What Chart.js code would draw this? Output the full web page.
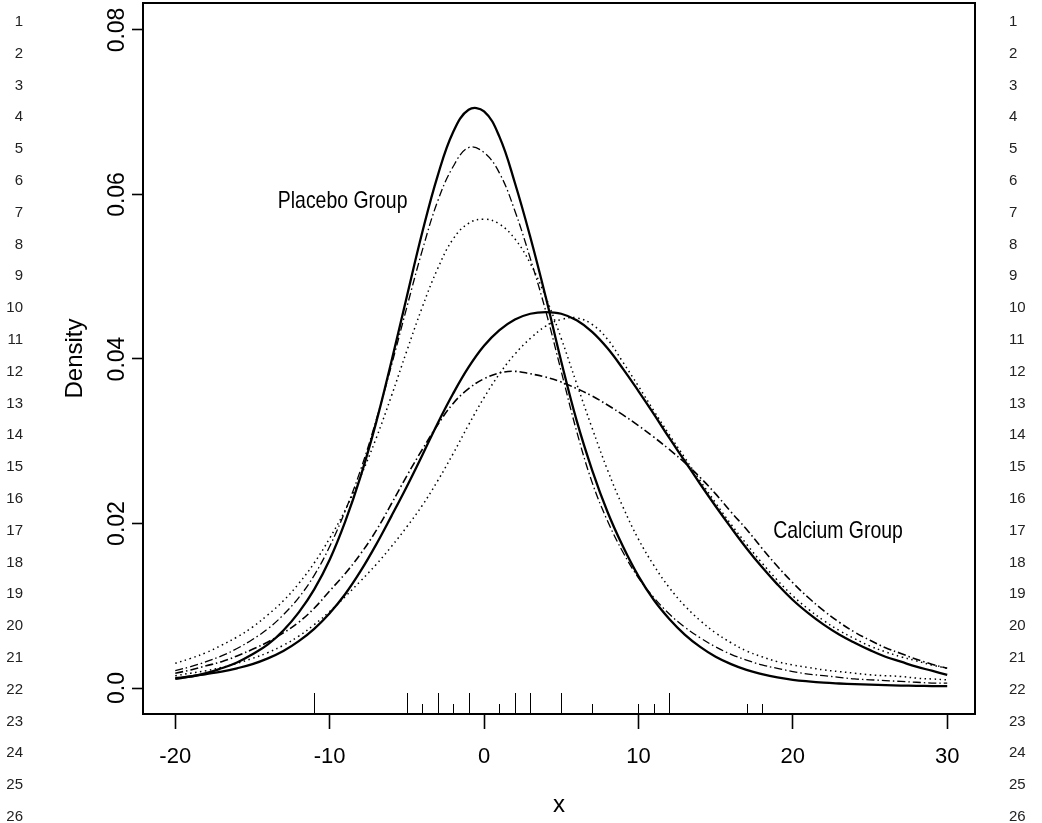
<!DOCTYPE html>
<html>
<head>
<meta charset="utf-8">
<script src="https://cdn.jsdelivr.net/npm/chart.js@4.4.1/dist/chart.umd.min.js"></script>
<style>
  html, body { margin: 0; padding: 0; background: #fff; }
  #wrap { position: relative; width: 1042px; height: 823px; }
  #chart { position: absolute; left: 0; top: 0; }
  .ln { position: absolute; font: 15px 'Liberation Sans', Arial, sans-serif; color: #222; line-height: 16px; }
</style>
</head>
<body>
<div id="wrap">
  <canvas id="chart" width="1042" height="823"></canvas>
</div>
<script>
// x grid the densities are read at
const xGrid = [-20,-19,-18,-17,-16,-15,-14,-13,-12,-11,-10,-9,-8,-7,-6,-5,-4,-3,-2,-1,
  0,1,2,3,4,5,6,7,8,9,10,11,12,13,14,15,16,17,18,19,20,21,22,23,24,25,26,27,28,29,30];

// Placebo group curves
const placeboSolid = [0.0011,0.0014,0.0018,0.0024,0.0031,0.0041,0.0053,0.0070,0.0092,0.0120,
  0.0156,0.0202,0.0257,0.0322,0.0397,0.0476,0.0554,0.0623,0.0676,0.0703,
  0.0701,0.0670,0.0614,0.0548,0.0475,0.0397,0.0325,0.0265,0.0214,0.0172,
  0.0136,0.0107,0.0084,0.0065,0.0050,0.0038,0.0029,0.0022,0.0017,0.0013,
  0.0010,0.0008,0.00065,0.00055,0.00047,0.0004,0.00035,0.0003,0.00027,0.00024,0.00022];
const placeboDashDot = [0.0021,0.0026,0.0032,0.0039,0.0048,0.0059,0.0072,0.0089,0.0110,0.0137,
  0.0172,0.0215,0.0265,0.0325,0.0392,0.0463,0.0532,0.0592,0.0634,0.0657,
  0.0651,0.0626,0.0580,0.0522,0.0458,0.0385,0.0312,0.0250,0.0203,0.0165,
  0.0134,0.0110,0.0090,0.0074,0.0061,0.0050,0.0041,0.0034,0.0028,0.0024,
  0.0020,0.0017,0.0015,0.0013,0.0011,0.0010,0.0009,0.0008,0.0007,0.0006,0.0006];
const placeboDotted = [0.0030,0.0036,0.0043,0.0052,0.0062,0.0074,0.0089,0.0106,0.0127,0.0152,
  0.0182,0.0216,0.0257,0.0303,0.0355,0.0410,0.0463,0.0510,0.0546,0.0565,
  0.0570,0.0564,0.0546,0.0516,0.0475,0.0425,0.0370,0.0316,0.0265,0.0220,
  0.0181,0.0149,0.0122,0.0100,0.0082,0.0067,0.0055,0.0045,0.0038,0.0032,
  0.0028,0.0025,0.0022,0.0020,0.0018,0.0016,0.0015,0.0014,0.0012,0.0011,0.0010];

// Calcium group curves
const calciumSolid = [0.0012,0.0014,0.0017,0.0020,0.0024,0.0029,0.0036,0.0045,0.0057,0.0072,
  0.0091,0.0114,0.0142,0.0174,0.0209,0.0245,0.0283,0.0322,0.0358,0.0390,
  0.0416,0.0435,0.0448,0.0455,0.0457,0.0455,0.0447,0.0433,0.0413,0.0388,
  0.0361,0.0333,0.0304,0.0276,0.0248,0.0221,0.0195,0.0170,0.0147,0.0126,
  0.0107,0.0091,0.0077,0.0065,0.0055,0.0046,0.0038,0.0032,0.0026,0.0021,0.0016];
const calciumDotted = [0.0015,0.0018,0.0021,0.0025,0.0030,0.0036,0.0043,0.0052,0.0063,0.0077,
  0.0093,0.0111,0.0130,0.0150,0.0172,0.0196,0.0222,0.0252,0.0285,0.0320,
  0.0353,0.0382,0.0406,0.0425,0.0440,0.0448,0.0450,0.0442,0.0424,0.0396,
  0.0367,0.0337,0.0308,0.0280,0.0252,0.0225,0.0199,0.0175,0.0152,0.0131,
  0.0112,0.0096,0.0082,0.0070,0.0060,0.0051,0.0044,0.0038,0.0033,0.0028,0.0024];
const calciumDashDot = [0.0018,0.0022,0.0027,0.0032,0.0039,0.0047,0.0056,0.0067,0.0080,0.0097,
  0.0118,0.0139,0.0163,0.0191,0.0224,0.0258,0.0290,0.0320,0.0346,0.0364,
  0.0376,0.0383,0.0385,0.0382,0.0378,0.0372,0.0364,0.0355,0.0344,0.0332,
  0.0319,0.0305,0.0290,0.0274,0.0256,0.0236,0.0214,0.0193,0.0170,0.0148,
  0.0128,0.0110,0.0094,0.0080,0.0068,0.0058,0.0049,0.0042,0.0035,0.0029,0.0024];

// rug of observations along the bottom
const rugTall = [-11, -5, -3, -1, 2, 3, 5, 12];
const rugShort = [-4, -2, 1, 7, 10, 11, 17, 18];

// axes
const xTickValues = [-20, -10, 0, 10, 20, 30];
const xTickLabels = ['-20', '-10', '0', '10', '20', '30'];
const yTickValues = [0, 0.02, 0.04, 0.06, 0.08];
const yTickLabels = ['0.0', '0.02', '0.04', '0.06', '0.08'];

const regular = "'Liberation Sans', Arial, sans-serif";

// manuscript line numbers in both margins
const wrap = document.getElementById('wrap');
for (let i = 1; i <= 26; i++) {
    const top = 21 + (i - 1) * 31.8 - 8;
    const l = document.createElement('div');
    l.className = 'ln';
    l.style.top = top + 'px';
    l.style.right = (1042 - 23) + 'px';
    l.style.textAlign = 'right';
    l.textContent = i;
    wrap.appendChild(l);
    const r = document.createElement('div');
    r.className = 'ln';
    r.style.top = top + 'px';
    r.style.left = '1009px';
    r.textContent = i;
    wrap.appendChild(r);
}

function series(values) {
    return xGrid.map((x, i) => ({ x: x, y: values[i] }));
}

const solid = { borderWidth: 2.3, borderDash: [] };
const dotted = { borderWidth: 1.5, borderDash: [1.5, 3.5] };
const dashDot = { borderWidth: 1.3, borderDash: [8, 3, 1.5, 3] };

const datasets = [
    Object.assign({ label: 'Placebo solid', data: series(placeboSolid) }, solid),
    Object.assign({ label: 'Placebo dash-dot', data: series(placeboDashDot) }, dashDot),
    Object.assign({ label: 'Placebo dotted', data: series(placeboDotted) }, dotted),
    Object.assign({ label: 'Calcium solid', data: series(calciumSolid) }, solid),
    Object.assign({ label: 'Calcium dotted', data: series(calciumDotted) }, dotted),
    Object.assign({ label: 'Calcium dash-dot', data: series(calciumDashDot) }, dashDot, { borderWidth: 1.6 })
];
datasets.forEach(d => {
    d.borderColor = '#000';
    d.pointRadius = 0;
    d.fill = false;
    d.tension = 0.4;
});

// box, rug and group labels
const frame = {
    id: 'frame',
    afterDatasetsDraw(chart) {
        const { ctx, chartArea: a, scales: { x, y } } = chart;
        ctx.save();
        ctx.strokeStyle = '#000';
        ctx.lineWidth = 2;
        ctx.strokeRect(a.left, a.top, a.right - a.left, a.bottom - a.top);

        ctx.lineWidth = 1;
        const rug = (vals, len) => vals.forEach(v => {
            const px = Math.round(x.getPixelForValue(v)) + 0.5;
            ctx.beginPath();
            ctx.moveTo(px, a.bottom);
            ctx.lineTo(px, a.bottom - len);
            ctx.stroke();
        });
        rug(rugTall, 21);
        rug(rugShort, 10);

        // the group names are set in a condensed face
        ctx.fillStyle = '#000';
        ctx.font = '24px ' + regular;
        ctx.textAlign = 'center';
        ctx.textBaseline = 'alphabetic';
        const label = (text, vx, vy) => {
            ctx.save();
            ctx.translate(x.getPixelForValue(vx), y.getPixelForValue(vy));
            ctx.scale(0.81, 1);
            ctx.fillText(text, 0, 0);
            ctx.restore();
        };
        label('Placebo Group', -9.16, 0.0584);
        label('Calcium Group', 22.93, 0.0182);
        ctx.restore();
    }
};

new Chart(document.getElementById('chart'), {
    type: 'line',
    data: { datasets: datasets },
    plugins: [frame],
    options: {
        responsive: false,
        animation: false,
        devicePixelRatio: 1,
        layout: { padding: { top: 3, right: 67, bottom: 0, left: 0 } },
        plugins: { legend: { display: false }, tooltip: { enabled: false } },
        scales: {
            x: {
                type: 'linear',
                min: -22.09,
                max: 31.8,
                afterBuildTicks: s => { s.ticks = xTickValues.map(v => ({ value: v })); },
                afterFit: s => { s.height = 109; s.paddingLeft = 0; s.paddingRight = 0; },
                ticks: {
                    color: '#000',
                    font: { family: regular, size: 22 },
                    padding: 15,
                    maxRotation: 0,
                    callback: (v, i) => xTickLabels[i]
                },
                grid: { drawOnChartArea: false, tickLength: 15, tickWidth: 1.6, tickColor: '#000' },
                border: { display: false },
                title: {
                    display: true,
                    text: 'x',
                    color: '#000',
                    font: { family: regular, size: 24 },
                    padding: { top: 0, bottom: 3 }
                }
            },
            y: {
                type: 'linear',
                min: -0.00316,
                max: 0.08328,
                afterBuildTicks: s => { s.ticks = yTickValues.map(v => ({ value: v })); },
                afterFit: s => { s.width = 143; s.paddingTop = 0; s.paddingBottom = 0; },
                ticks: {
                    color: '#000',
                    font: { family: regular, size: 23 },
                    minRotation: 90,
                    maxRotation: 90,
                    crossAlign: 'center',
                    padding: -8,
                    callback: (v, i) => yTickLabels[i]
                },
                grid: { drawOnChartArea: false, tickLength: 11, tickWidth: 1.6, tickColor: '#000' },
                border: { display: false },
                title: {
                    display: true,
                    text: 'Density',
                    color: '#000',
                    font: { family: regular, size: 24 },
                    padding: { top: 61, bottom: 0 }
                }
            }
        }
    }
});
</script>
</body>
</html>
